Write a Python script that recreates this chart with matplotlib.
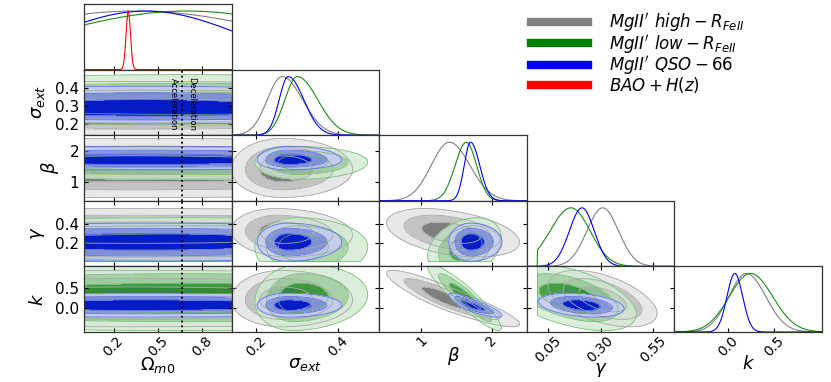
import numpy as np
import matplotlib
matplotlib.use('Agg')
import matplotlib.pyplot as plt
from matplotlib.lines import Line2D

# parameters: Omega_m0, sigma_ext, beta, gamma, k
labels = [r'$\Omega_{m0}$', r'$\sigma_{ext}$', r'$\beta$', r'$\gamma$', r'$k$']
lims = [(0.0, 1.0), (0.14, 0.5), (0.4, 2.5), (-0.05, 0.65), (-0.58, 1.02)]
xticks = [[0.2, 0.5, 0.8], [0.2, 0.4], [1, 2], [0.05, 0.30, 0.55], [0.0, 0.5]]
xticklabels = [['0.2', '0.5', '0.8'], ['0.2', '0.4'], ['1', '2'],
               ['0.05', '0.30', '0.55'], ['0.0', '0.5']]
yticks = [None, [0.2, 0.3, 0.4], [1, 2], [0.2, 0.4], [0.0, 0.5]]
yticklabels = [None, ['0.2', '0.3', '0.4'], ['1', '2'], ['0.2', '0.4'], ['0.0', '0.5']]

# MgII' high - R_FeII (mode, lower / upper widths, correlations)
high_mode = [0.35, 0.263, 1.40, 0.31, 0.20]
high_lo = [1.06, 0.036, 0.26, 0.075, 0.19]
high_hi = [1.06, 0.050, 0.29, 0.075, 0.21]
high_rho = {(1, 3): -0.1, (2, 3): -0.4, (2, 4): -0.9, (3, 4): -0.5}

# MgII' low - R_FeII
low_mode = [0.70, 0.300, 1.64, 0.16, 0.245]
low_lo = [0.95, 0.030, 0.16, 0.10, 0.23]
low_hi = [0.95, 0.050, 0.145, 0.09, 0.24]
low_rho = {(2, 3): 0.3, (2, 4): -0.92, (3, 4): -0.5, (1, 4): 0.1}

# MgII' QSO-66
qso_mode = [0.42, 0.278, 1.70, 0.212, 0.075]
qso_lo = [0.64, 0.022, 0.09, 0.06, 0.085]
qso_hi = [0.64, 0.038, 0.13, 0.058, 0.085]
qso_rho = {(2, 4): -0.85, (3, 4): -0.3}

# BAO + H(z), only Omega_m0
bao_mode = 0.30
bao_sig = 0.015

q_transition = 2.0 / 3.0

sets = [
    dict(mode=high_mode, lo=high_lo, hi=high_hi, rho=high_rho, line='#808080',
         fills=['#7f7f7f', '#c3c3c3', '#e8e8e8'], edge='#a8a8a8', alpha=1.0),
    dict(mode=low_mode, lo=low_lo, hi=low_hi, rho=low_rho, line='#1a8a1a',
         fills=['#1e8c1e', '#98cc98', '#d2ead2'], edge='#6ab86a', alpha=0.8),
    dict(mode=qso_mode, lo=qso_lo, hi=qso_hi, rho=qso_rho, line='#0000ff',
         fills=['#0010d6', '#8591e4', '#c8cef3'], edge='#5a6ae8', alpha=0.9),
]
chi_levels = [0, 2.30, 6.18, 11.83]


def zval(x, m, lo, hi):
    return np.where(x < m, (x - m) / lo, (x - m) / hi)


def prior_ok(i, x):
    if i == 3:
        return x >= 0
    return np.ones_like(x, dtype=bool)


W = 147.6 / 831
H = 65.6 / 382
fig = plt.figure(figsize=(8.31, 3.82), dpi=100)
n = 5
spine_c = '#333333'

for i in range(n):
    for j in range(i + 1):
        ax = fig.add_axes([(84 + j * 147.6) / 831, 1 - (4 + (i + 1) * 65.6) / 382, W, H])
        for s in ax.spines.values():
            s.set_color(spine_c)
            s.set_linewidth(0.9)
        ax.set_xlim(lims[j])
        if i == j:
            x = np.linspace(lims[i][0], lims[i][1], 400)
            for d in sets:
                y = np.exp(-0.5 * zval(x, d['mode'][i], d['lo'][i], d['hi'][i]) ** 2)
                y = np.where(prior_ok(i, x), y, 0)
                ax.plot(x, y, color=d['line'], lw=0.8)
            if i == 0:
                y = np.exp(-0.5 * ((x - bao_mode) / bao_sig) ** 2)
                ax.plot(x, y, color='#ff0000', lw=0.8)
            ax.set_ylim(0, 1.12)
            ax.set_yticks([])
            ax.tick_params(axis='x', direction='in', length=3, top=False)
        else:
            ax.set_ylim(lims[i])
            xs = np.linspace(lims[j][0], lims[j][1], 220)
            ys = np.linspace(lims[i][0], lims[i][1], 220)
            X, Y = np.meshgrid(xs, ys)
            for d in sets:
                zx = zval(X, d['mode'][j], d['lo'][j], d['hi'][j])
                zy = zval(Y, d['mode'][i], d['lo'][i], d['hi'][i])
                r = d['rho'].get((j, i), 0.0)
                chi2 = (zx ** 2 - 2 * r * zx * zy + zy ** 2) / (1 - r ** 2)
                chi2 = np.where(prior_ok(j, X) & prior_ok(i, Y), chi2, 1e3)
                ax.contourf(X, Y, chi2, levels=chi_levels, colors=d['fills'], alpha=d['alpha'])
                ax.contour(X, Y, chi2, levels=chi_levels[1:], colors=d['edge'],
                           linewidths=0.6, alpha=d['alpha'])
            if j == 0:
                ax.axvline(q_transition, color='k', ls=':', lw=1.3)
                if i == 1:
                    ax.text(q_transition - 0.03, 0.5 * (lims[1][0] + lims[1][1]) - 0.01,
                            'Acceleration', rotation=-90, fontsize=6,
                            ha='right', va='center')
                    ax.text(q_transition + 0.03, 0.5 * (lims[1][0] + lims[1][1]) - 0.01,
                            'Deceleration', rotation=-90, fontsize=6,
                            ha='left', va='center')
            ax.set_yticks(yticks[i])
            ax.tick_params(direction='in', length=3, top=True, right=True)
            if j == 0:
                ax.set_yticklabels(yticklabels[i], fontsize=11)
                ax.set_ylabel(labels[i], fontsize=13, labelpad=6)
            else:
                ax.set_yticklabels([])
        ax.set_xticks(xticks[j])
        if i == n - 1:
            ax.set_xticklabels(xticklabels[j], fontsize=10, rotation=45, ha='center')
            ax.tick_params(axis='x', pad=1)
            ax.set_xlabel(labels[j], fontsize=13, labelpad=-3)
        else:
            ax.set_xticklabels([])

handles = [Line2D([], [], color=c, lw=6) for c in ['#808080', '#008000', '#0000ff', '#ff0000']]
names = [r"$MgII'\ high-R_{FeII}$", r"$MgII'\ low-R_{FeII}$",
         r"$MgII'\ QSO-66$", r"$BAO+H(z)$"]
fig.legend(handles, names, loc='upper left', bbox_to_anchor=(516 / 831, 1.01),
           frameon=False, fontsize=12, handlelength=3.4, labelspacing=-0.1,
           handletextpad=1.3)

fig.savefig('out.png', dpi=100)
